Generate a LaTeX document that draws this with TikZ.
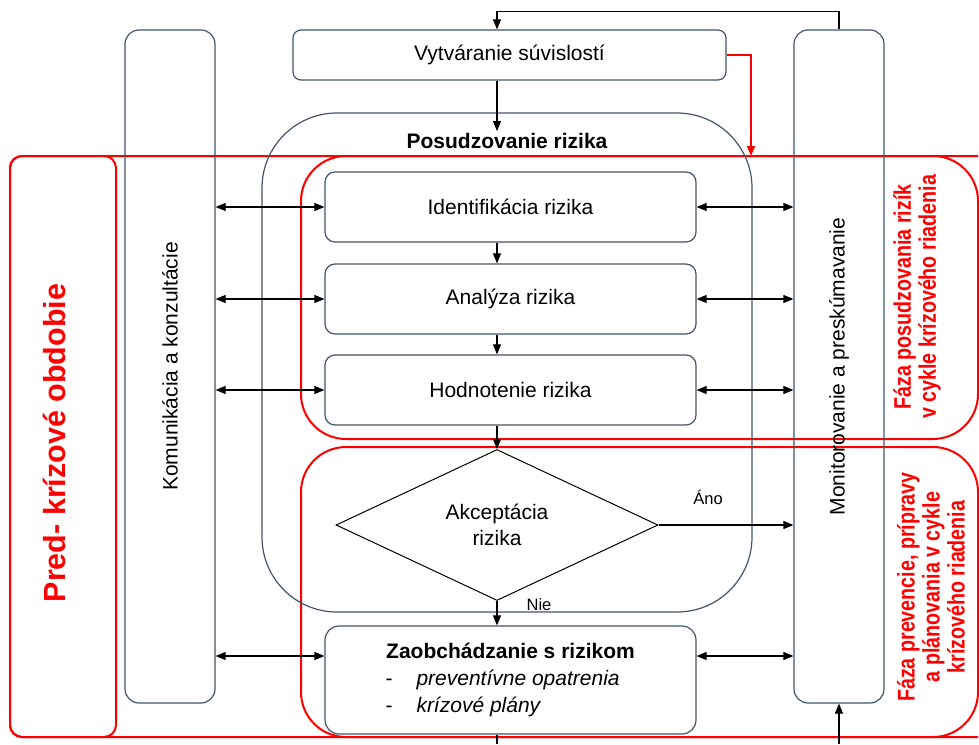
\documentclass[tikz,border=0pt]{standalone}
\usepackage{fontspec}
\setmainfont{Liberation Sans}
\newfontfamily\narrowsans[FakeStretch=0.82]{Liberation Sans}
\usetikzlibrary{shapes.geometric,arrows.meta}
\definecolor{frameblue}{RGB}{68,84,106}
\definecolor{phasered}{RGB}{255,0,0}
\tikzset{
  lbl/.style={font=\fontsize{21}{26}\selectfont},
  small/.style={font=\fontsize{16.5}{20}\selectfont},
  box/.style={lbl, draw=frameblue, line width=1.2pt, rounded corners=#1, inner sep=0pt},
  box/.default=10pt,
  decision/.style={lbl, draw, diamond, line width=1pt, align=center, inner sep=0pt,
    minimum width=322pt, minimum height=151pt},
  phase/.style={draw=phasered, line width=2pt, rounded corners=#1},
  phasetext/.style={text=phasered, rotate=90, align=center,
    font=\narrowsans\bfseries\fontsize{24}{25}\selectfont},
  arr/.style={-{Triangle[length=10pt,width=8pt]}, line width=1.1pt},
  dbl/.style={{Triangle[length=10pt,width=8pt]}-{Triangle[length=10pt,width=8pt]}, line width=1.1pt}
}
\begin{document}
\begin{tikzpicture}[x=1pt,y=-1pt]
  \useasboundingbox (0,0) rectangle (979,744);
  % red phase frames
  \draw[phase=12pt] (978,156) -- (10,156) -- (10,737) -- (978,737);
  \draw[phase=12pt] (10,156) rectangle (116,737);
  \draw[phase=45pt] (301,156) rectangle (978,439);
  \draw[phase=45pt] (301,447) rectangle (978,737);
  \node[phasetext, font=\bfseries\fontsize{30.5}{36}\selectfont] (pred) at (54,443) {Pred- krízové obdobie};
  \node[phasetext] (fazaA) at (917,297) {Fáza posudzovania rizík\\v cykle krízového riadenia};
  \node[phasetext] (fazaB) at (931,587) {Fáza prevencie, prípravy\\a plánovania v cykle\\krízového riadenia};
  % risk assessment frame
  \draw[frameblue, line width=1.2pt, rounded corners=75pt] (262,113) rectangle (752,612);
  \node[lbl, font=\bfseries\fontsize{21}{26}\selectfont, inner sep=2pt] (posud) at (507,141) {Posudzovanie rizika};
  % boxes
  \node[box=8pt, minimum width=433pt, minimum height=50pt] (vyt) at (509.5,55) {Vytváranie súvislostí};
  \node[box=14pt, minimum width=90pt, minimum height=673pt] (kom) at (170,366.5) {\rotatebox{90}{Komunikácia a konzultácie}};
  \node[box=14pt, minimum width=90pt, minimum height=673pt] (mon) at (839,366.5) {\rotatebox{90}{Monitorovanie a preskúmavanie}\hspace{8pt}};
  \node[box, minimum width=371pt, minimum height=70pt] (ident) at (510.5,207) {Identifikácia rizika};
  \node[box, minimum width=371pt, minimum height=70pt] (anal) at (510.5,299) {Analýza rizika};
  \node[box, minimum width=371pt, minimum height=70pt] (hodn) at (510.5,390) {Hodnotenie rizika};
  \node[decision] (akc) at (497,525) {Akceptácia\\rizika};
  \node[box=14pt, minimum width=371pt, minimum height=108pt, align=center, font=\fontsize{21}{27}\selectfont] (zaob) at (510.5,680)
    {\textbf{Zaobchádzanie s rizikom}\\
     \makebox[250pt][l]{\makebox[31pt][l]{-}\textit{preventívne opatrenia}}\\
     \makebox[250pt][l]{\makebox[31pt][l]{-}\textit{krízové plány}}};
  \coordinate (redtip) at (751,156);
  \coordinate (monfoot) at (839,744);
  \coordinate (zaobfoot) at (497,744);
  % connectors
  \draw[arr] (mon.north) -- ++(0,-18) -| (vyt.north -| akc.north);
  \draw[arr, phasered, line width=2pt] (vyt.east) -| (redtip);
  \draw[arr] (vyt.south -| akc.north) -- (posud.north -| akc.north);
  \draw[arr] (ident.south -| akc.north) -- (anal.north -| akc.north);
  \draw[arr] (anal.south -| akc.north) -- (hodn.north -| akc.north);
  \draw[arr] (hodn.south -| akc.north) -- (akc.north);
  \draw[arr] (akc.south) -- (zaob.north -| akc.south);
  \draw[arr] (akc.east) -- (mon.west |- akc.east);
  \node[small] (ano) at (708,497) {Áno};
  \node[small] (nie) at (539,605) {Nie};
  \foreach \b in {ident,anal,hodn} {
    \draw[dbl] (kom.east |- \b.west) -- (\b.west);
    \draw[dbl] (\b.east) -- (mon.west |- \b.east);
  }
  \draw[dbl] (kom.east |- 0,656) -- ([yshift=24pt]zaob.west);
  \draw[dbl] ([yshift=24pt]zaob.east) -- (mon.west |- 0,656);
  \draw[arr] (monfoot) -- (mon.south);
  \draw[line width=1.1pt] (zaob.south -| akc.south) -- (zaobfoot);
\end{tikzpicture}
\end{document}
